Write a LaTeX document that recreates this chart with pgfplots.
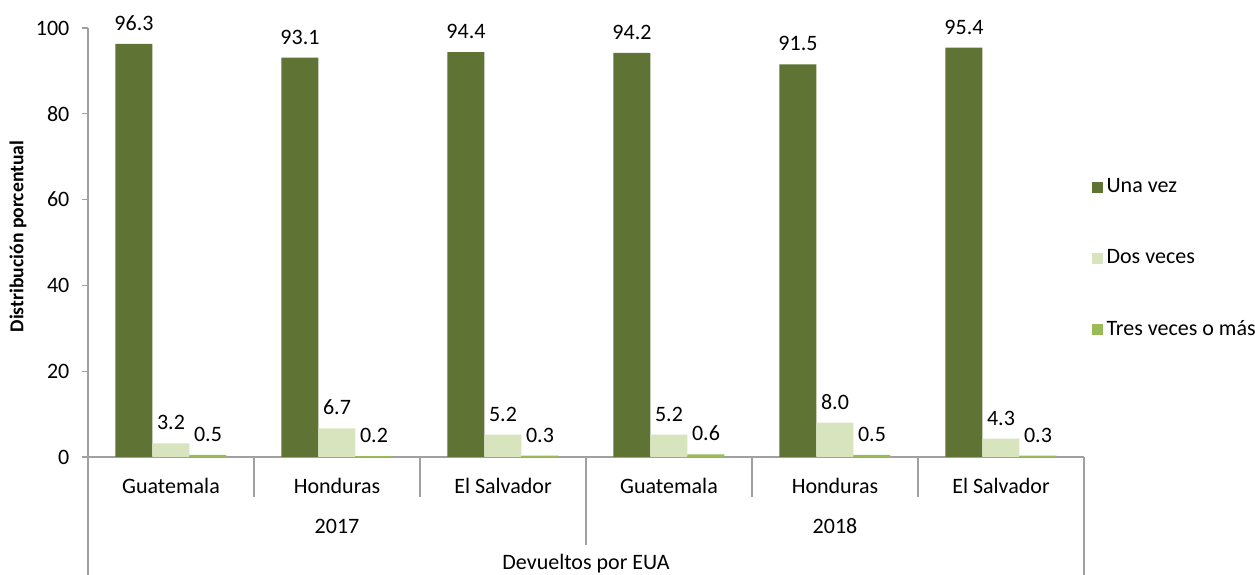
\documentclass[border=0pt]{standalone}
\usepackage{fontspec}
\setmainfont{Carlito}
\usepackage{pgfplots}
\pgfplotsset{compat=1.18}
\definecolor{c1}{HTML}{5F7334}
\definecolor{c2}{HTML}{D7E4BD}
\definecolor{c3}{HTML}{9BBB59}
\definecolor{ax}{HTML}{A0A0A0}
\newcommand{\fs}{\fontsize{13.2}{15}\selectfont}
\begin{document}
\fs
\begin{tikzpicture}
\path[use as bounding box] (-52.8pt,-70.8pt) rectangle (700.2pt,274.2pt);
\begin{axis}[
  at={(0,0)}, anchor=south west,
  scale only axis, width=597.6pt, height=257.4pt,
  xmin=0, xmax=6, ymin=0, ymax=100,
  clip=false,
  axis x line*=bottom, axis y line*=left,
  axis line style={ax, line width=0.7pt},
  ytick={0,20,...,100}, tick align=outside, major tick length=3.6pt,
  y tick style={ax, line width=0.7pt},
  yticklabel style={xshift=-3pt},
  xtick={0.5,1.5,2.5,3.5,4.5,5.5},
  xticklabels={Guatemala,Honduras,El Salvador,Guatemala,Honduras,El Salvador},
  x tick style={draw=none},
  xticklabel style={anchor=base, yshift=-18.6pt},
  ticklabel style={font=\fs},
  /pgf/number format/assume math mode=true,
  ybar=0pt, bar width=22.2pt,
  nodes near coords,
  nodes near coords style={/pgf/number format/fixed, /pgf/number format/fixed zerofill, /pgf/number format/precision=1, /pgf/number format/assume math mode=true},
  every node near coord/.append style={font=\fs, anchor=base, yshift=8.1pt, text=black},
  legend style={draw=none, at={(rel axis cs:1.008,0.657)}, anchor=north west,
    font=\fs, row sep=28pt, inner sep=0pt},
  legend cell align=left,
  legend image code/.code={\fill[#1, draw=none] (0pt,-3.3pt) rectangle (6.6pt,3.3pt);},
  legend style={/tikz/every even column/.append style={column sep=1.5pt}},
]
\addplot[fill=c1, draw=none] coordinates {(0.5,96.3) (1.5,93.1) (2.5,94.4) (3.5,94.2) (4.5,91.5) (5.5,95.4)};
\addplot[fill=c2, draw=none] coordinates {(0.5,3.2) (1.5,6.7) (2.5,5.2) (3.5,5.2) (4.5,8.0) (5.5,4.3)};
\addplot[fill=c3, draw=none] coordinates {(0.5,0.5) (1.5,0.2) (2.5,0.3) (3.5,0.6) (4.5,0.5) (5.5,0.3)};
\legend{Una vez, Dos veces, Tres veces o más}
% separators
\draw[ax, line width=0.7pt] (axis cs:0,0) -- ++(0,-70.8pt);
\draw[ax, line width=0.7pt] (axis cs:6,0) -- ++(0,-70.8pt);
\draw[ax, line width=0.7pt] (axis cs:3,0) -- ++(0,-52.8pt);
\draw[ax, line width=0.7pt] (axis cs:1,0) -- ++(0,-24pt);
\draw[ax, line width=0.7pt] (axis cs:2,0) -- ++(0,-24pt);
\draw[ax, line width=0.7pt] (axis cs:4,0) -- ++(0,-24pt);
\draw[ax, line width=0.7pt] (axis cs:5,0) -- ++(0,-24pt);
\node[anchor=base] at ([yshift=-46pt]axis cs:1.5,0) {2017};
\node[anchor=base] at ([yshift=-46pt]axis cs:4.5,0) {2018};
\node[anchor=base] at ([yshift=-67.4pt]axis cs:3,0) {Devueltos por EUA};
\node[rotate=90, font=\bfseries\fontsize{11.8}{14}\selectfont] at ([xshift=-42pt]rel axis cs:0,0.514) {Distribución porcentual};
\end{axis}
\end{tikzpicture}
\end{document}
